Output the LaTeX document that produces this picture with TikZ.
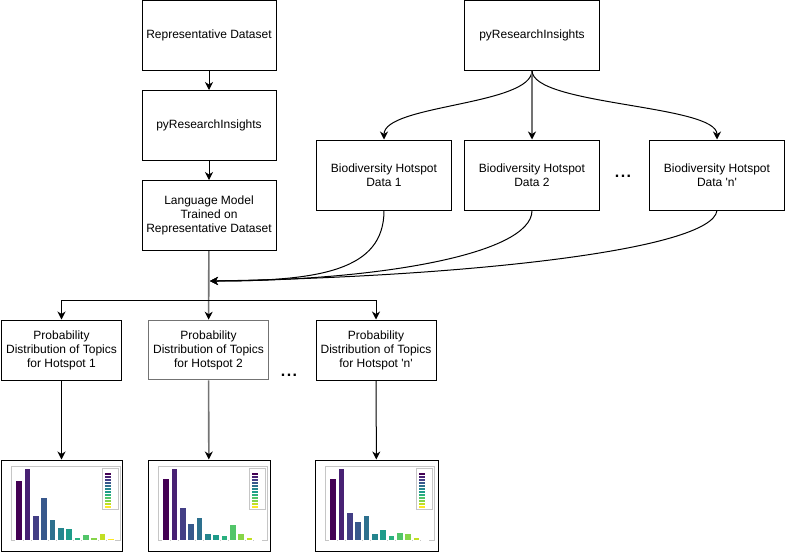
\documentclass[tikz,border=0pt]{standalone}
\usepackage{fontspec}
\setmainfont{Liberation Sans}
\usetikzlibrary{arrows.meta,positioning,calc}

\definecolor{linegray}{HTML}{737373}
\definecolor{vir1}{HTML}{440154}
\definecolor{vir2}{HTML}{482173}
\definecolor{vir3}{HTML}{433E85}
\definecolor{vir4}{HTML}{38588C}
\definecolor{vir5}{HTML}{2D708E}
\definecolor{vir6}{HTML}{25858E}
\definecolor{vir7}{HTML}{1E9B8A}
\definecolor{vir8}{HTML}{2AB07F}
\definecolor{vir9}{HTML}{52C569}
\definecolor{vir10}{HTML}{86D549}
\definecolor{vir11}{HTML}{C2DF23}
\definecolor{vir12}{HTML}{FDE725}

% bar chart of topic weights inside a chart node
\newcommand{\topicbars}[2]{%
  \begin{scope}[shift={(#1.north west)}]
    \draw[gray!45,line width=0.5pt] (11,7) rectangle (120,81);
    \foreach \h [count=\i] in {#2} {
      \filldraw[fill=vir\i,draw=white,line width=0.4pt] ({15+(\i-1)*8.33},81) rectangle ++(6.8,{-72*\h});
    }
    \draw[gray!45,fill=white,line width=0.4pt] (102,9) rectangle (118,50);
    \foreach \i in {1,...,12} {
      \fill[vir\i] (104,{10.5+\i*3}) rectangle ++(6,2.4);
    }
  \end{scope}}

\begin{document}
\begin{tikzpicture}[x=1pt,y=-1pt,
    box/.style={draw,line width=1pt,align=center,inner sep=0pt,
      font=\fontsize{12}{14}\selectfont},
    chart/.style={draw,line width=1pt,fill=white,inner sep=0pt},
    flow/.style={line width=1pt,-{Stealth[length=8pt,width=8pt,inset=2.5pt,color=black]}},
    grayflow/.style={flow,draw=linegray,line width=1.6pt},
    dots/.style={font=\fontsize{16}{16}\selectfont\bfseries}]
  \useasboundingbox (0,0) rectangle (785,552);

  % left column
  \node[box,minimum width=134pt,minimum height=70pt] (repdata) at (209,35) {Representative Dataset};
  \node[box,minimum width=134pt,minimum height=70pt] (pyleft) at (209,125.5) {pyResearchInsights};
  \node[box,minimum width=134pt,minimum height=70pt] (langmodel) at (209,215.5) {Language Model\\Trained on\\Representative Dataset};

  % hotspot data
  \node[box,minimum width=135pt,minimum height=70pt] (pyright) at (532,35) {pyResearchInsights};
  \node[box,minimum width=135pt,minimum height=70pt] (hot1) at (384,175) {Biodiversity Hotspot\\Data 1};
  \node[box,minimum width=135pt,minimum height=70pt] (hot2) at (532,175) {Biodiversity Hotspot\\Data 2};
  \node[box,minimum width=135pt,minimum height=70pt] (hotn) at (717,175) {Biodiversity Hotspot\\Data \textquotesingle n\textquotesingle};
  \node[dots] (hotdots) at (623,176) {.\kern1.5pt.\kern1.5pt.};

  % topic distributions
  \node[box,minimum width=120pt,minimum height=60pt] (dist1) at (61.5,350) {Probability\\Distribution of Topics\\for Hotspot 1};
  \node[box,draw=linegray,line width=1.6pt,minimum width=120pt,minimum height=59pt] (dist2) at (208.5,350) {Probability\\Distribution of Topics\\for Hotspot 2};
  \node[box,minimum width=120pt,minimum height=60pt] (distn) at (376,350) {Probability\\Distribution of Topics\\for Hotspot \textquotesingle n\textquotesingle};
  \node[dots] (distdots) at (289,375) {.\kern1.5pt.\kern1.5pt.};

  % charts
  \node[chart,minimum width=121pt,minimum height=91pt] (chart1) at (61.5,505.5) {};
  \node[chart,minimum width=122pt,minimum height=91pt] (chart2) at (209,505.5) {};
  \node[chart,minimum width=123pt,minimum height=91pt] (chartn) at (376.5,505.5) {};
  \topicbars{chart1}{0.84,1,0.35,0.60,0.29,0.19,0.17,0.05,0.09,0.04,0.10,0.03}
  \topicbars{chart2}{0.87,1,0.46,0.24,0.33,0.10,0.09,0.08,0.22,0.10,0.05,0.02}
  \topicbars{chartn}{0.86,1,0.39,0.27,0.35,0.10,0.16,0.08,0.11,0.10,0.05,0.02}

  \coordinate (merge) at (210,281);
  \coordinate (split) at (209,300);

  % connectors
  \draw[flow] (repdata) -- (pyleft);
  \draw[flow] (pyleft) -- (langmodel);
  \draw[grayflow] (langmodel) -- (dist2);
  \draw[line width=1pt] (dist1.north |- split) -- (distn.north |- split);
  \draw[flow] (dist1.north |- split) -- (dist1);
  \draw[flow] (distn.north |- split) -- (distn);

  \draw[flow] (pyright.south) .. controls +(0,35) and +(0,-35) .. (hot1.north);
  \draw[grayflow] (pyright) -- (hot2);
  \draw[flow] (pyright.south) .. controls +(0,35) and +(0,-35) .. (hotn.north);

  \draw[flow] (hot1.south) .. controls +(0,60) and +(110,0) .. (merge);
  \draw[flow] (hot2.south) .. controls +(0,45) and +(160,0) .. (merge);
  \draw[flow] (hotn.south) .. controls +(-5,40) and +(250,-4) .. (merge);

  \draw[flow] (dist1) -- (chart1);
  \draw[grayflow] (dist2) -- (chart2);
  \draw[flow] (distn) -- (chartn);
\end{tikzpicture}
\end{document}
